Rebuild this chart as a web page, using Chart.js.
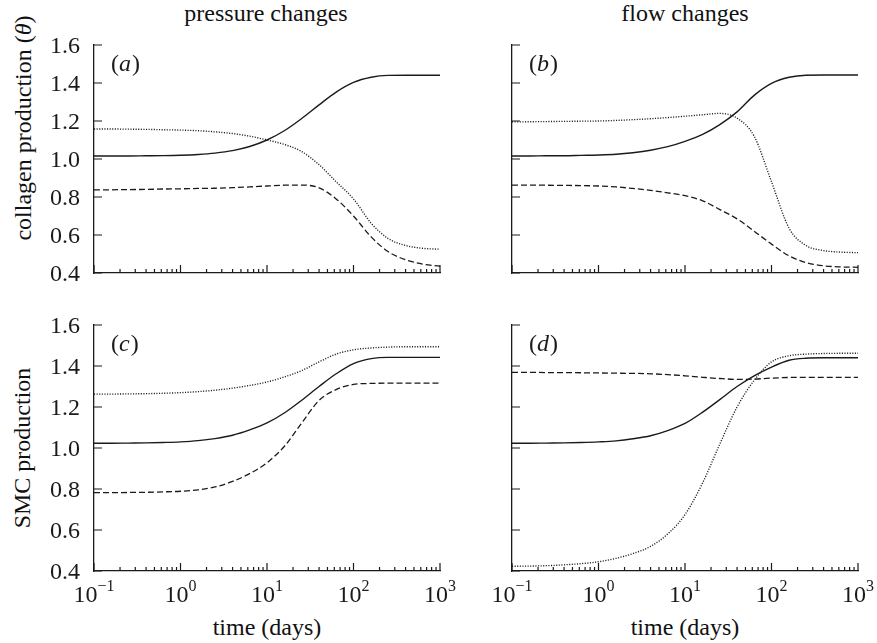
<!DOCTYPE html>
<html>
<head>
<meta charset="utf-8">
<script src="https://cdn.jsdelivr.net/npm/chart.js@4"></script>
<style>
  body { margin: 0; background: #fff; }
  #fig { position: relative; width: 877px; height: 643px; overflow: hidden; background: #fff;
         font-family: 'Liberation Serif', 'Times New Roman', serif; color: #111; }
  #fig canvas { position: absolute; }
  .txt { position: absolute; font-size: 24px; line-height: 24px; white-space: nowrap; }
</style>
</head>
<body>
<div id="fig">
  <div class="txt" style="left:266px;top:1px;transform:translateX(-50%)">pressure changes</div>
  <div class="txt" style="left:685px;top:1px;transform:translateX(-50%)">flow changes</div>
  <div class="txt" style="left:23px;top:128px;transform:translate(-50%,-50%) rotate(-90deg)">collagen production (<i>θ</i>)</div>
  <div class="txt" style="left:22px;top:448px;transform:translate(-50%,-50%) rotate(-90deg)">SMC production</div>
  <div class="txt" style="left:267px;top:615px;transform:translateX(-50%)">time (days)</div>
  <div class="txt" style="left:685px;top:615px;transform:translateX(-50%)">time (days)</div>

  <canvas id="pa" width="470" height="262" style="left:0;top:28px"></canvas>
  <canvas id="pb" width="437" height="262" style="left:440px;top:28px"></canvas>
  <canvas id="pc" width="470" height="310" style="left:0;top:305px"></canvas>
  <canvas id="pd" width="437" height="310" style="left:440px;top:305px"></canvas>
</div>

<script>
// time points (days) shared by every curve
const TIME = [0.1, 0.16, 0.25, 0.4, 0.63, 1, 1.6, 2.5, 4, 6.3, 10, 16, 25, 40, 63, 100, 160, 250, 400, 630, 1000];

// axis ticks
const Y_TICKS = [0.4, 0.6, 0.8, 1.0, 1.2, 1.4, 1.6];
const X_DECADES = [0.1, 1, 10, 100, 1000];
const X_EXPONENTS = ['\u22121', '0', '1', '2', '3'];

// (a) collagen, pressure changes
const aSolid  = [1.016, 1.016, 1.016, 1.017, 1.018, 1.020, 1.024, 1.031, 1.044, 1.066, 1.100, 1.150, 1.212, 1.285, 1.352, 1.403, 1.430, 1.440, 1.441, 1.441, 1.441];
const aDashed = [0.837, 0.838, 0.839, 0.840, 0.842, 0.843, 0.845, 0.846, 0.849, 0.853, 0.858, 0.862, 0.863, 0.848, 0.790, 0.700, 0.590, 0.513, 0.470, 0.447, 0.436];
const aDotted = [1.158, 1.158, 1.157, 1.156, 1.154, 1.152, 1.149, 1.143, 1.134, 1.120, 1.100, 1.076, 1.040, 0.970, 0.880, 0.790, 0.662, 0.582, 0.545, 0.530, 0.525];

// (b) collagen, flow changes
const bSolid  = [1.016, 1.016, 1.017, 1.017, 1.019, 1.021, 1.025, 1.033, 1.046, 1.065, 1.093, 1.130, 1.180, 1.248, 1.335, 1.398, 1.430, 1.441, 1.442, 1.442, 1.442];
const bDashed = [0.863, 0.863, 0.862, 0.861, 0.860, 0.858, 0.853, 0.845, 0.835, 0.822, 0.807, 0.780, 0.735, 0.685, 0.620, 0.552, 0.490, 0.455, 0.438, 0.432, 0.430];
const bDotted = [1.195, 1.196, 1.197, 1.198, 1.199, 1.200, 1.203, 1.207, 1.212, 1.218, 1.225, 1.233, 1.240, 1.215, 1.120, 0.880, 0.635, 0.545, 0.518, 0.510, 0.507];

// (c) SMC, pressure changes
const cSolid  = [1.023, 1.023, 1.024, 1.025, 1.027, 1.030, 1.036, 1.046, 1.062, 1.088, 1.122, 1.172, 1.232, 1.300, 1.362, 1.412, 1.436, 1.442, 1.442, 1.442, 1.442];
const cDashed = [0.782, 0.782, 0.783, 0.784, 0.786, 0.789, 0.796, 0.810, 0.837, 0.875, 0.928, 1.010, 1.120, 1.232, 1.285, 1.310, 1.315, 1.316, 1.316, 1.316, 1.316];
const cDotted = [1.263, 1.263, 1.264, 1.265, 1.267, 1.270, 1.275, 1.282, 1.292, 1.305, 1.322, 1.347, 1.377, 1.420, 1.458, 1.479, 1.488, 1.492, 1.494, 1.494, 1.494];

// (d) SMC, flow changes
const dSolid  = [1.023, 1.023, 1.024, 1.025, 1.027, 1.030, 1.035, 1.045, 1.060, 1.085, 1.120, 1.175, 1.235, 1.300, 1.352, 1.395, 1.428, 1.438, 1.440, 1.440, 1.440];
const dDashed = [1.369, 1.369, 1.368, 1.368, 1.367, 1.366, 1.365, 1.364, 1.362, 1.358, 1.352, 1.345, 1.339, 1.335, 1.336, 1.341, 1.344, 1.345, 1.345, 1.345, 1.345];
const dDotted = [0.423, 0.424, 0.426, 0.430, 0.436, 0.445, 0.462, 0.485, 0.520, 0.580, 0.675, 0.830, 1.015, 1.200, 1.330, 1.420, 1.450, 1.458, 1.461, 1.462, 1.462];

const FONT = "'Liberation Serif', 'Times New Roman', serif";
const INK = '#1a1a1a';

// inward tick marks, tick labels and the panel letter
const decor = {
  id: 'decor',
  afterDraw(chart, args, opts) {
    const { ctx, chartArea: a, scales: { x, y } } = chart;
    ctx.save();
    ctx.strokeStyle = INK;
    ctx.lineWidth = 1.2;
    ctx.beginPath();
    Y_TICKS.forEach(v => {
      const py = y.getPixelForValue(v);
      ctx.moveTo(a.left, py);
      ctx.lineTo(a.left + 8, py);
    });
    X_DECADES.forEach((d, i) => {
      const px = x.getPixelForValue(d);
      ctx.moveTo(px, a.bottom);
      ctx.lineTo(px, a.bottom - 8);
      if (i < X_DECADES.length - 1) {
        for (let k = 2; k <= 9; k++) {
          const mx = x.getPixelForValue(d * k);
          ctx.moveTo(mx, a.bottom);
          ctx.lineTo(mx, a.bottom - 4);
        }
      }
    });
    ctx.stroke();

    ctx.fillStyle = INK;
    ctx.textBaseline = 'alphabetic';
    if (opts.yLabels) {
      ctx.font = '24px ' + FONT;
      ctx.textAlign = 'right';
      Y_TICKS.forEach(v => {
        ctx.fillText(v.toFixed(1), a.left - 14, y.getPixelForValue(v) + 8);
      });
      ctx.textAlign = 'left';
    }
    if (opts.xLabels) {
      X_DECADES.forEach((d, i) => {
        const px = x.getPixelForValue(d);
        ctx.font = '24px ' + FONT;
        const w1 = ctx.measureText('10').width;
        ctx.font = '16px ' + FONT;
        const w2 = ctx.measureText(X_EXPONENTS[i]).width;
        const x0 = px - (w1 + w2) / 2;
        const base = a.bottom + 31;
        ctx.font = '24px ' + FONT;
        ctx.fillText('10', x0, base);
        ctx.font = '16px ' + FONT;
        ctx.fillText(X_EXPONENTS[i], x0 + w1, base - 11);
      });
    }

    // panel letter, e.g. (a)
    let lx = a.left + 17;
    const lb = a.top + 26;
    ctx.font = '24px ' + FONT;
    ctx.fillText('(', lx, lb);
    lx += ctx.measureText('(').width;
    ctx.font = 'italic 24px ' + FONT;
    ctx.fillText(opts.letter, lx, lb);
    lx += ctx.measureText(opts.letter).width + 1;
    ctx.font = '24px ' + FONT;
    ctx.fillText(')', lx, lb);
    ctx.restore();
  }
};

function series(vals, dash, width) {
  return {
    data: TIME.map((t, i) => ({ x: t, y: vals[i] })),
    borderColor: INK,
    borderWidth: width,
    borderDash: dash,
    pointRadius: 0,
    fill: false,
    cubicInterpolationMode: 'monotone'
  };
}

function makePanel(p) {
  const chart = new Chart(document.getElementById(p.id), {
    type: 'line',
    data: {
      datasets: [
        series(p.solid, [], 1.4),
        series(p.dashed, [6, 3], 1.3),
        series(p.dotted, [1.1, 1.5], 1.35)
      ]
    },
    options: {
      responsive: false,
      animation: false,
      events: [],
      layout: { padding: { top: p.area.top, right: p.padR, left: 0, bottom: 0 } },
      plugins: {
        legend: { display: false },
        tooltip: { enabled: false },
        decor: { letter: p.letter, xLabels: p.xLabels, yLabels: p.yLabels }
      },
      scales: {
        x: {
          type: 'logarithmic', min: 0.1, max: 1000,
          grid: { display: false, drawTicks: false },
          border: { display: true, color: INK, width: 1.3 },
          ticks: { display: false },
          afterFit: s => { s.height = p.xH; }
        },
        y: {
          min: 0.4, max: 1.6,
          grid: { display: false, drawTicks: false },
          border: { display: true, color: INK, width: 1.3 },
          ticks: { display: false, stepSize: 0.2 },
          afterFit: s => { s.width = p.yW; }
        }
      }
    },
    plugins: [decor]
  });

  // nudge the layout until the plot area sits where the panel should be
  for (let i = 0; i < 4; i++) {
    const ca = chart.chartArea;
    const pad = chart.config.options.layout.padding;
    const dt = p.area.top - ca.top, dr = ca.right - p.area.right;
    const dl = p.area.left - ca.left, db = ca.bottom - p.area.bottom;
    if (!dt && !dr && !dl && !db) break;
    pad.top += dt;
    pad.right += dr;
    p.yW += dl;
    p.xH += db;
    chart.update();
  }
  return chart;
}

makePanel({ id: 'pa', letter: 'a', solid: aSolid, dashed: aDashed, dotted: aDotted,
  area: { left: 94, top: 17, right: 440, bottom: 245 }, yW: 94, xH: 17, padR: 30, yLabels: true, xLabels: false });
makePanel({ id: 'pb', letter: 'b', solid: bSolid, dashed: bDashed, dotted: bDotted,
  area: { left: 72, top: 17, right: 418, bottom: 245 }, yW: 72, xH: 17, padR: 19, yLabels: false, xLabels: false });
makePanel({ id: 'pc', letter: 'c', solid: cSolid, dashed: cDashed, dotted: cDotted,
  area: { left: 94, top: 20, right: 440, bottom: 266 }, yW: 94, xH: 44, padR: 30, yLabels: true, xLabels: true });
makePanel({ id: 'pd', letter: 'd', solid: dSolid, dashed: dDashed, dotted: dDotted,
  area: { left: 72, top: 20, right: 418, bottom: 266 }, yW: 72, xH: 44, padR: 19, yLabels: false, xLabels: true });
</script>
</body>
</html>
